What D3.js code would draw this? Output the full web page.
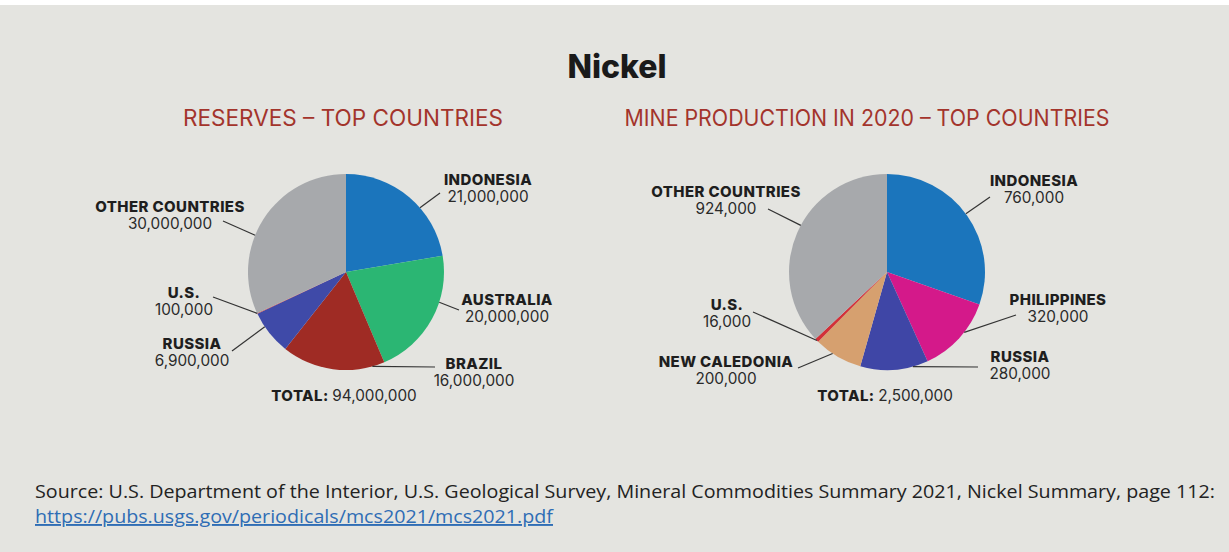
<!DOCTYPE html>
<html>
<head>
<meta charset="utf-8">
<script src="https://cdn.jsdelivr.net/npm/d3@7"></script>
<style>
  html, body { margin: 0; padding: 0; background: #ffffff; }
  svg { display: block; }
  .name { font-family: Inter, "Noto Sans", sans-serif; font-weight: 800; font-size: 15px; letter-spacing: 0.4px; fill: #1e1e1e; }
  .value { font-family: Inter, "Noto Sans", sans-serif; font-weight: 400; font-size: 15.3px; fill: #2a2a2a; }
  .subtitle { font-family: Inter, "Noto Sans", sans-serif; font-weight: 400; font-size: 22.5px; fill: #a3342c; }
  .title { font-family: Inter, "Noto Sans", sans-serif; font-weight: 800; font-size: 32px; fill: #1a1a1a; }
  .source { font-family: "Liberation Sans Narrow", "Open Sans", sans-serif; font-size: 19px; fill: #222; }
</style>
</head>
<body>
<svg id="chart" width="1229" height="552"></svg>
<script>
(function () {
    // data
    var reserveCountries = ["INDONESIA", "AUSTRALIA", "BRAZIL", "RUSSIA", "U.S.", "OTHER COUNTRIES"];
    var reserveValues = [21000000, 20000000, 16000000, 6900000, 100000, 30000000];
    var reserveTotal = 94000000;

    var productionCountries = ["INDONESIA", "PHILIPPINES", "RUSSIA", "NEW CALEDONIA", "U.S.", "OTHER COUNTRIES"];
    var productionValues = [760000, 320000, 280000, 200000, 16000, 924000];
    var productionTotal = 2500000;

    var reserveColors = ["#1b75bc", "#2bb673", "#9f2b24", "#3f4aa8", "#d23038", "#a7a9ac"];
    var productionColors = ["#1b75bc", "#d4198a", "#3f46a6", "#d6a06f", "#d23038", "#a7a9ac"];

    // label layout: leader start angle (deg), leader end and text offset from pie centre
    var reserveLabels = [
        {angle: 49, end: [94, -79], text: [142, -87]},
        {angle: 108, end: [113, 38], text: [161, 33]},
        {angle: 164.4, end: [89, 95], text: [128, 97]},
        {angle: 236, end: [-114, 79], text: [-154, 77]},
        {angle: 245, end: [-133, 25], text: [-162, 26]},
        {angle: 292, end: [-123, -51], text: [-176, -60]}
    ];
    var productionLabels = [
        {angle: 53.6, end: [103, -75], text: [147, -86]},
        {angle: 128, end: [129, 43], text: [171, 33]},
        {angle: 164.7, end: [91, 95], text: [133, 90]},
        {angle: 213.7, end: [-89, 96], text: [-161, 95]},
        {angle: 225.6, end: [-134, 40], text: [-160, 38]},
        {angle: 298.4, end: [-119, -63], text: [-161, -75]}
    ];

    var svg = d3.select("#chart");
    var W = 1229, H = 552;

    svg.append("rect").attr("x", 0).attr("y", 5).attr("width", W).attr("height", H - 5)
        .attr("fill", "#e4e4e0");

    svg.append("text").attr("class", "title")
        .attr("x", 617).attr("y", 78).attr("text-anchor", "middle").text("Nickel");

    var fmt = d3.format(",");
    var radius = 98;

    function drawPie(cx, cy, subtitle, subX, subW, names, values, colors, labels, total) {
        svg.append("text").attr("class", "subtitle")
            .attr("x", subX).attr("y", 126).attr("text-anchor", "middle")
            .attr("textLength", subW).attr("lengthAdjust", "spacingAndGlyphs")
            .text(subtitle);

        var g = svg.append("g").attr("transform", "translate(" + cx + "," + cy + ")");
        var pie = d3.pie().sort(null).value(function (d) { return d; });
        var arc = d3.arc().innerRadius(0).outerRadius(radius);

        g.selectAll("path.slice")
            .data(pie(values))
            .enter().append("path")
            .attr("class", "slice")
            .attr("d", arc)
            .attr("fill", function (d, i) { return colors[i]; });

        labels.forEach(function (l, i) {
            var start = d3.pointRadial(l.angle * Math.PI / 180, radius);
            g.append("line")
                .attr("x1", start[0]).attr("y1", start[1])
                .attr("x2", l.end[0]).attr("y2", l.end[1])
                .attr("stroke", "#333").attr("stroke-width", 1.2);
            g.append("text").attr("class", "name")
                .attr("x", l.text[0]).attr("y", l.text[1])
                .attr("text-anchor", "middle").text(names[i]);
            g.append("text").attr("class", "value")
                .attr("x", l.text[0]).attr("y", l.text[1] + 17)
                .attr("text-anchor", "middle").text(fmt(values[i]));
        });

        var t = g.append("text").attr("x", -2).attr("y", 129).attr("text-anchor", "middle");
        t.append("tspan").attr("class", "name").text("TOTAL: ");
        t.append("tspan").attr("class", "value").text(fmt(total));
    }

    drawPie(346, 272, "RESERVES \u2013 TOP COUNTRIES", 343, 320,
        reserveCountries, reserveValues, reserveColors, reserveLabels, reserveTotal);
    drawPie(887, 272, "MINE PRODUCTION IN 2020 \u2013 TOP COUNTRIES", 867, 485,
        productionCountries, productionValues, productionColors, productionLabels, productionTotal);

    svg.append("text").attr("class", "source")
        .attr("x", 35).attr("y", 498)
        .attr("textLength", 1180).attr("lengthAdjust", "spacingAndGlyphs")
        .text("Source: U.S. Department of the Interior, U.S. Geological Survey, Mineral Commodities Summary 2021, Nickel Summary, page 112:");
    svg.append("text").attr("class", "source")
        .attr("x", 35).attr("y", 523)
        .attr("textLength", 518).attr("lengthAdjust", "spacingAndGlyphs")
        .style("fill", "#2f6db5").style("text-decoration", "underline")
        .text("https://pubs.usgs.gov/periodicals/mcs2021/mcs2021.pdf");
})();
</script>
</body>
</html>
